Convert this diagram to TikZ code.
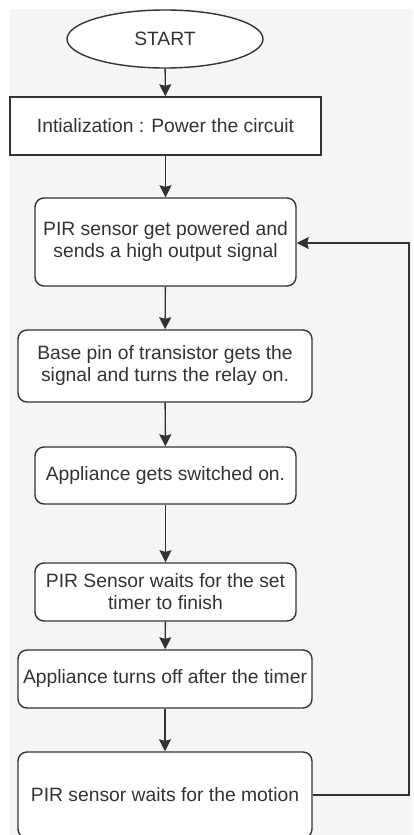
\documentclass[tikz,border=0pt]{standalone}
\usepackage{fontspec}
\setmainfont{Liberation Sans}
\usetikzlibrary{arrows.meta,shapes.geometric}
\definecolor{ink}{HTML}{333333}
\definecolor{canvas}{HTML}{F5F5F5}
\begin{document}
\begin{tikzpicture}[x=1pt,y=-1pt,
  every node/.style={font=\fontsize{19.3}{22}\selectfont, text=ink, align=center, inner sep=0pt},
  box/.style={draw=ink, line width=1.4pt, fill=white},
  roundbox/.style={box, rounded corners=9pt},
  flow/.style={draw=ink, line width=1.4pt, -{Stealth[length=12pt,width=12pt,inset=1.5pt]}}]
  % page and canvas
  \useasboundingbox (0,0) rectangle (413,835);
  \fill[white] (0,0) rectangle (413,835);
  \fill[canvas] (10,9) rectangle (413,835);
  \begin{scope}
  \clip (0,0) rectangle (413,835);
  % flow steps
  \node[box, ellipse, minimum width=196pt, minimum height=58pt] (start) at (165,39) {START};
  \node[box, minimum width=311pt, minimum height=58pt] (init) at (165.5,126) {Intialization : Power the circuit};
  \node[roundbox, minimum width=261pt, minimum height=88pt] (pir) at (165.5,242) {PIR sensor get powered and\\sends a high output signal};
  \node[roundbox, minimum width=294pt, minimum height=72pt] (base) at (165,366) {Base pin of transistor gets the\\signal and turns the relay on.};
  \node[roundbox, minimum width=261pt, minimum height=57pt] (appon) at (165.5,475.5) {Appliance gets switched on.};
  \node[roundbox, minimum width=261pt, minimum height=58pt] (timer) at (165.5,592) {PIR Sensor waits for the set\\timer to finish};
  \node[roundbox, minimum width=294pt, minimum height=58pt] (appoff) at (165,679) {Appliance turns off after the timer};
  \node[roundbox, minimum width=294pt, minimum height=86pt] (motion) at (165,795) {PIR sensor waits for the motion};
  % connectors
  \draw[flow] (start) -- (init);
  \draw[flow] (init) -- (pir);
  \draw[flow] (pir) -- (base);
  \draw[flow] (base) -- (appon);
  \draw[flow] (appon) -- (timer);
  \draw[flow] (timer) -- (appoff);
  \draw[flow] (appoff) -- (motion);
  \draw[flow, rounded corners=0pt] (motion.east) -- (409,795) -- (409,243) -- (pir.east |- 0,243);
  \end{scope}
\end{tikzpicture}
\end{document}
